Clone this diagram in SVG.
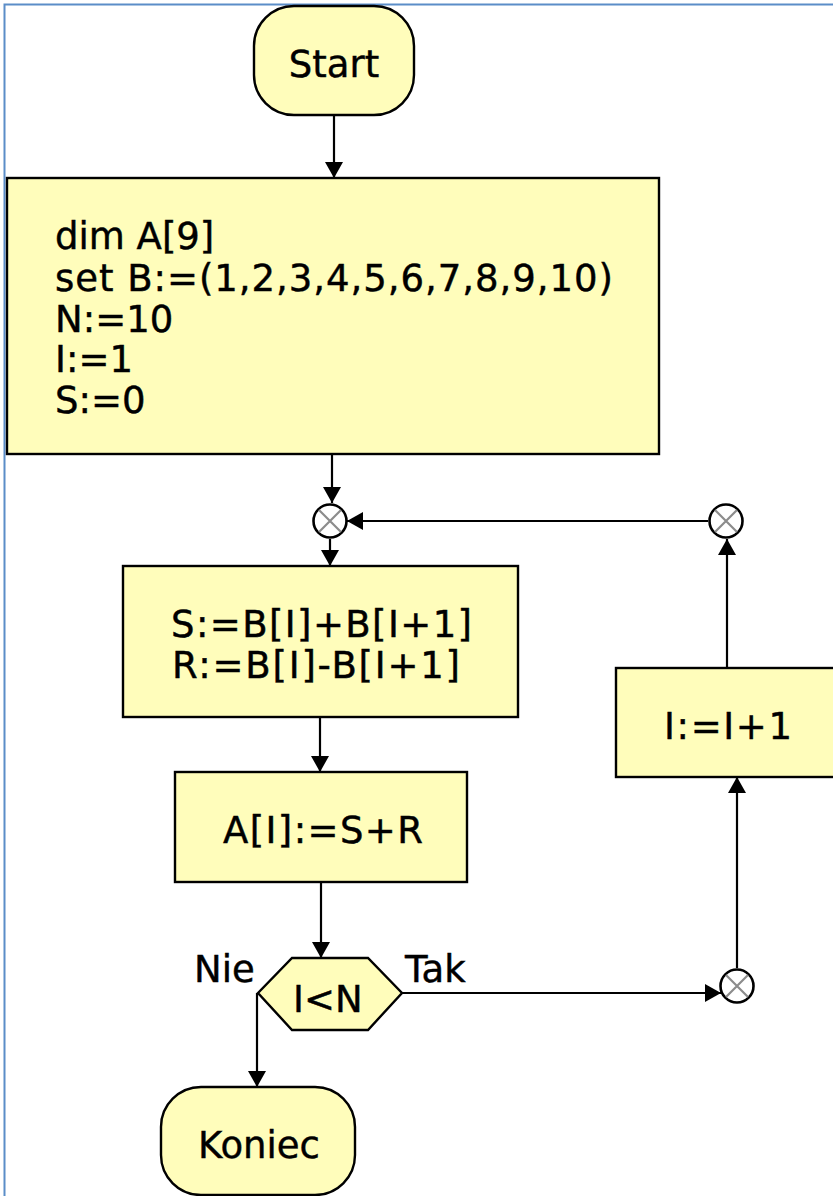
<svg xmlns="http://www.w3.org/2000/svg" width="833" height="1196" viewBox="0 0 833 1196">
<style>
.box{fill:#fffdbb;stroke:#000;stroke-width:2.4}
.t{font-family:"DejaVu Sans","Liberation Sans",sans-serif;font-size:37px;fill:#000;stroke:#000;stroke-width:0.45}
.c{text-anchor:middle}
.conn{fill:none;stroke:#000;stroke-width:2.2}
.jn{fill:#fff;stroke:#000;stroke-width:2.6}
.jx{stroke:#8c8c8c;stroke-width:2.2}
</style>
<defs>
<marker id="arr" viewBox="0 0 16 18" refX="16" refY="9" markerWidth="16" markerHeight="18" markerUnits="userSpaceOnUse" orient="auto">
<path d="M0,0 L16,9 L0,18 Z" fill="#000"/>
</marker>
</defs>
<rect width="833" height="1196" fill="#fff"/>
<g id="frame"><path d="M4.5,1196 V4.5 H833" fill="none" stroke="#5b8dc8" stroke-width="2"/></g>

<g id="connectors">
<path class="conn" d="M334,115 V178" marker-end="url(#arr)"/>
<path class="conn" d="M332,454 V503" marker-end="url(#arr)"/>
<path class="conn" d="M708,521 H347" marker-end="url(#arr)"/>
<path class="conn" d="M330,539 V566" marker-end="url(#arr)"/>
<path class="conn" d="M320,717 V772" marker-end="url(#arr)"/>
<path class="conn" d="M321,882 V958" marker-end="url(#arr)"/>
<path class="conn" d="M402,993 H721" marker-end="url(#arr)"/>
<path class="conn" d="M737,968 V777" marker-end="url(#arr)"/>
<path class="conn" d="M727,668 V539" marker-end="url(#arr)"/>
<path class="conn" d="M257,993 V1087" marker-end="url(#arr)"/>
</g>

<g id="start">
<rect class="box" x="254" y="6" width="160" height="109" rx="40" ry="40"/>
<text class="t c" x="334" y="77">Start</text>
</g>

<g id="init">
<rect class="box" x="7" y="178" width="652" height="276"/>
<text class="t" x="55" y="249">dim A[9]</text>
<text class="t" x="55" y="291" textLength="558" lengthAdjust="spacing">set B:=(1,2,3,4,5,6,7,8,9,10)</text>
<text class="t" x="55" y="332">N:=10</text>
<text class="t" x="55" y="372">I:=1</text>
<text class="t" x="55" y="413">S:=0</text>
</g>

<g id="join1">
<circle class="jn" cx="330" cy="521" r="16.5"/>
<path class="jx" d="M319,510 L341,532 M341,510 L319,532"/>
</g>

<g id="join2">
<circle class="jn" cx="726" cy="521" r="16.5"/>
<path class="jx" d="M715,510 L737,532 M737,510 L715,532"/>
</g>

<g id="calc">
<rect class="box" x="123" y="566" width="395" height="151"/>
<text class="t" x="171" y="637" textLength="301" lengthAdjust="spacing">S:=B[I]+B[I+1]</text>
<text class="t" x="172" y="678" textLength="288" lengthAdjust="spacing">R:=B[I]-B[I+1]</text>
</g>

<g id="assign">
<rect class="box" x="175" y="772" width="292" height="110"/>
<text class="t" x="223" y="843" textLength="200" lengthAdjust="spacing">A[I]:=S+R</text>
</g>

<g id="cond">
<polygon class="box" points="258,993 292,958 368,958 402,993 368,1030 292,1030"/>
<text class="t" x="293" y="1012">I&lt;N</text>
</g>
<g id="label-nie"><text class="t" x="194" y="982">Nie</text></g>
<g id="label-tak"><text class="t" x="405" y="982">Tak</text></g>

<g id="join3">
<circle class="jn" cx="737" cy="986" r="16.5"/>
<path class="jx" d="M726,975 L748,997 M748,975 L726,997"/>
</g>

<g id="incr">
<rect class="box" x="616" y="668" width="230" height="109"/>
<text class="t" x="664" y="739" textLength="128" lengthAdjust="spacing">I:=I+1</text>
</g>

<g id="end">
<rect class="box" x="161" y="1087" width="194" height="108" rx="40" ry="40"/>
<text class="t" x="198" y="1158">Koniec</text>
</g>
</svg>
